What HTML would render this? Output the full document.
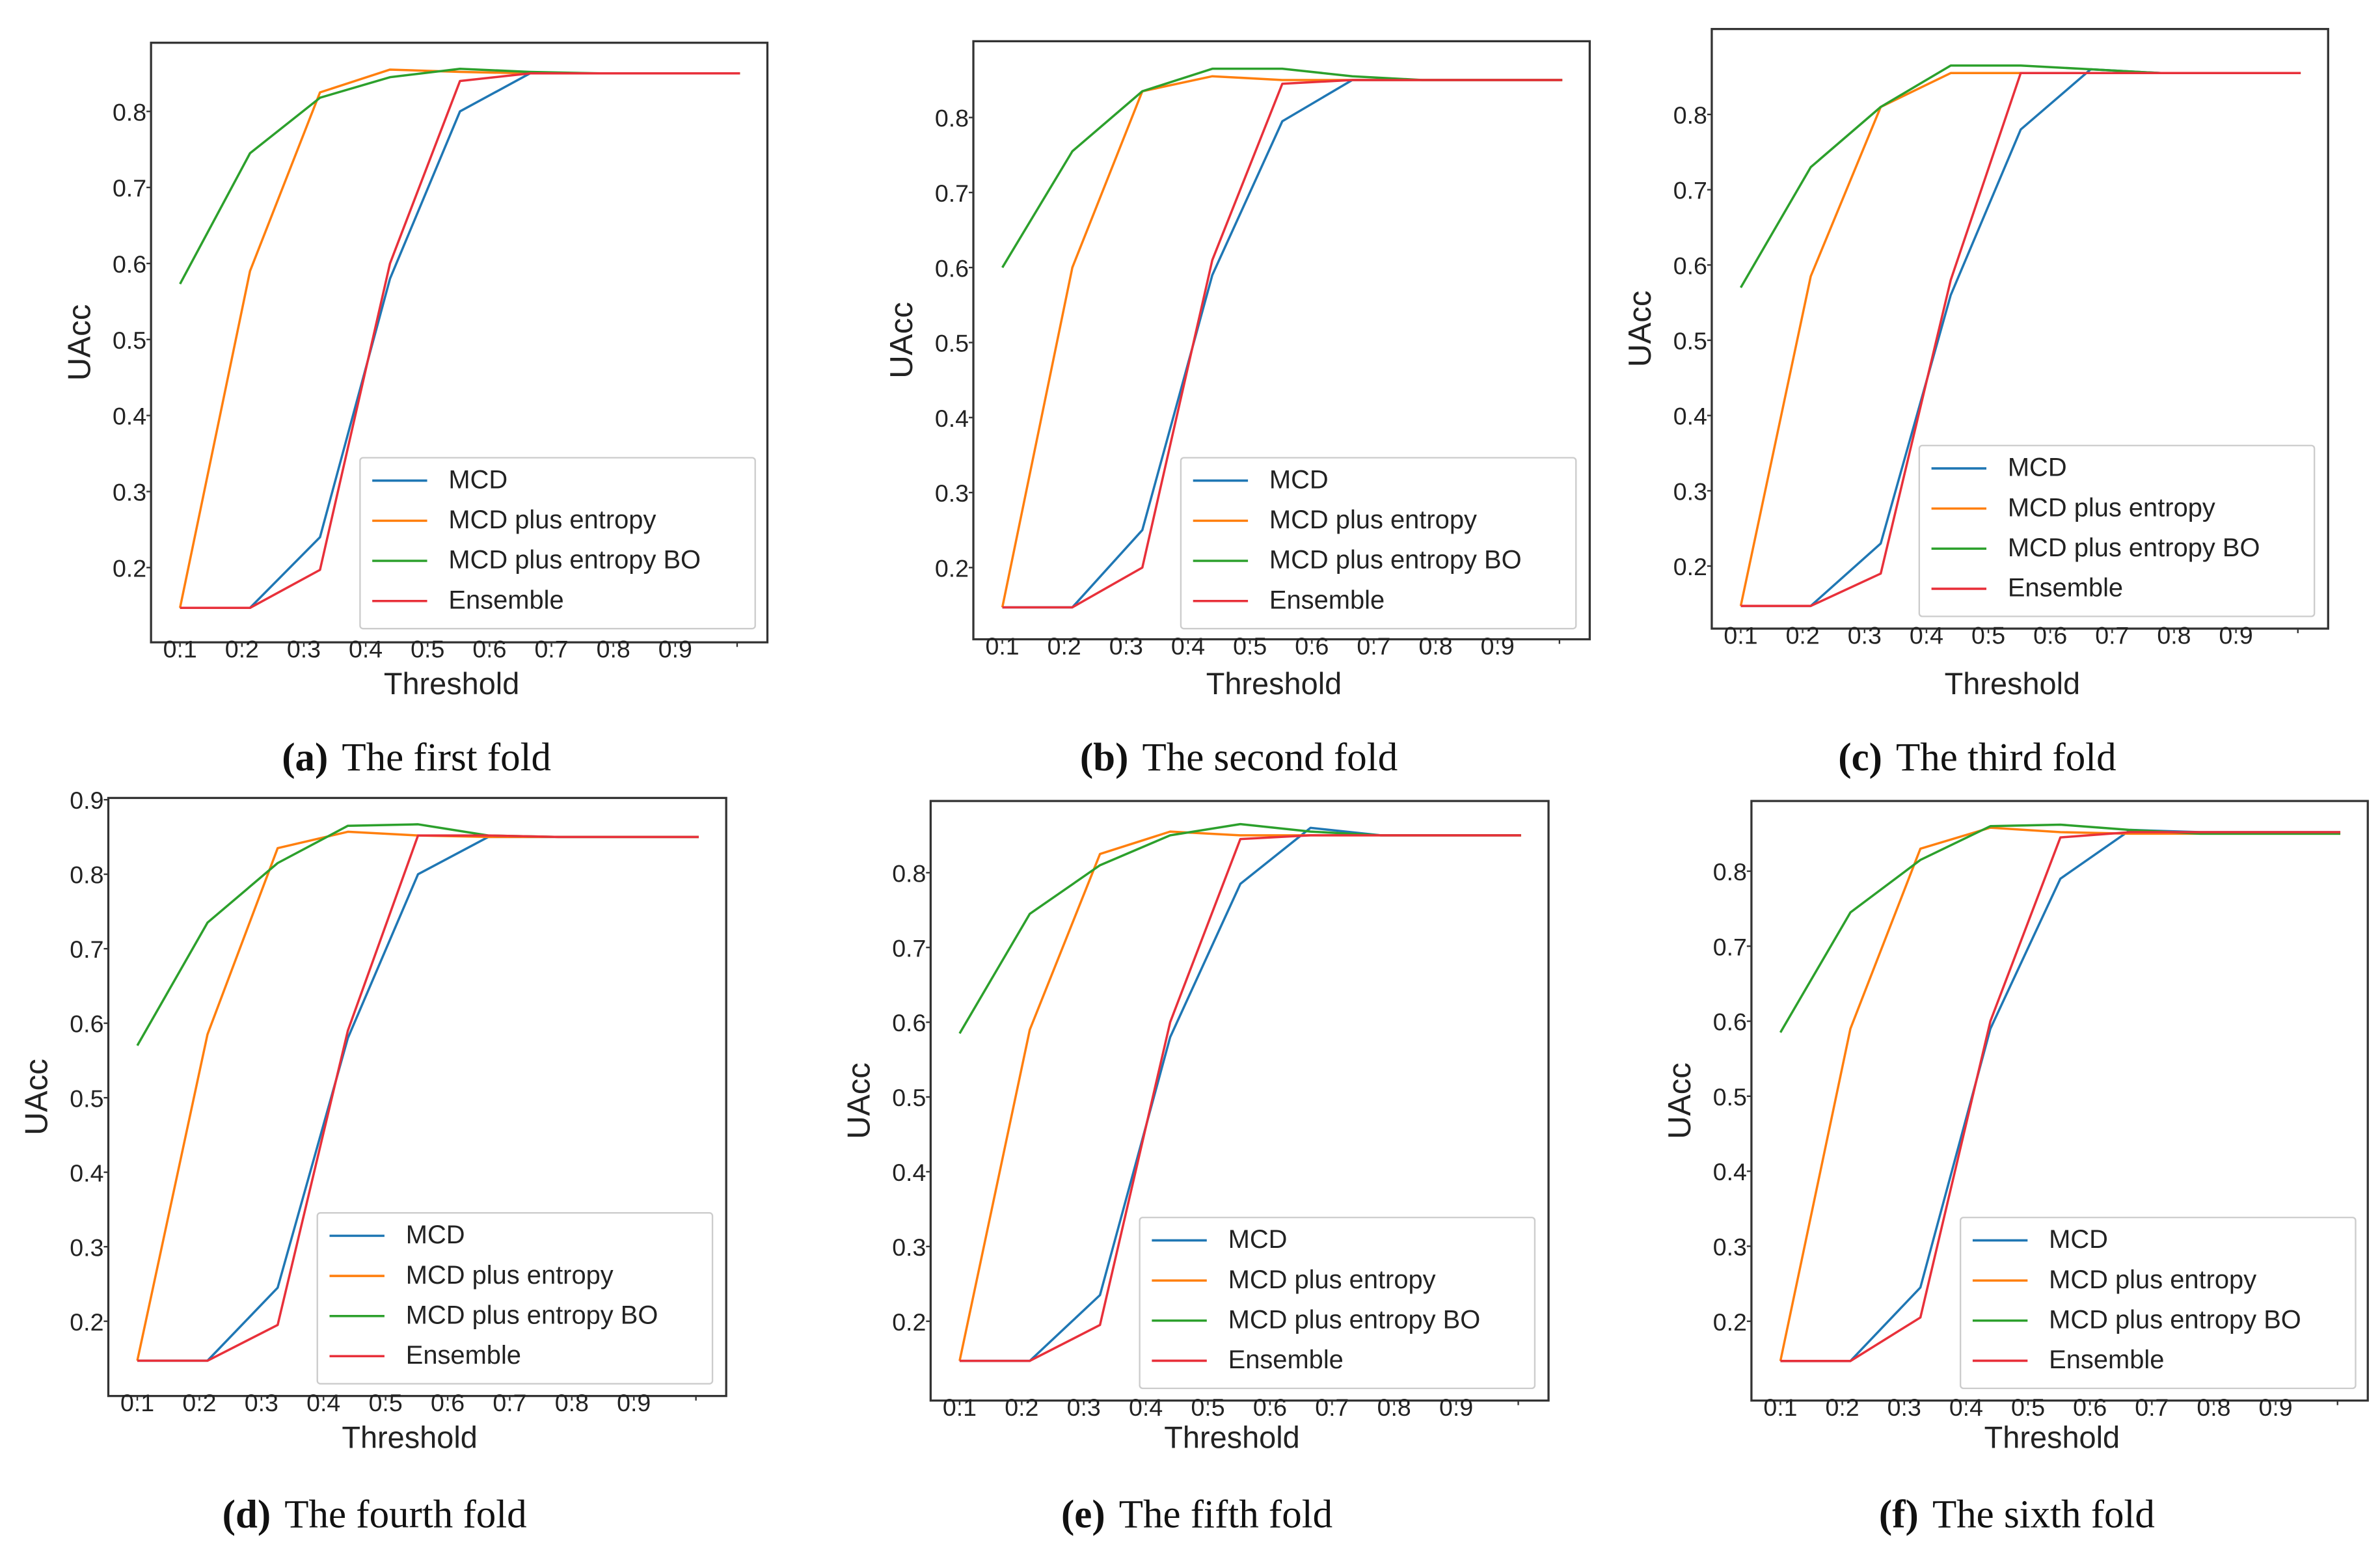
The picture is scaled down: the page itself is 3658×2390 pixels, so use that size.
<!DOCTYPE html>
<html><head><meta charset="utf-8"><style>
html,body{margin:0;padding:0;background:#fff}
svg{display:block}
text{font-family:"Liberation Sans",sans-serif;fill:#222}
.cap{font-family:"Liberation Serif",serif;fill:#111}
</style></head><body>
<svg id="fig" width="3658" height="2390" viewBox="0 0 1560 1019.2" xmlns="http://www.w3.org/2000/svg"></svg>
<script>
const thresholdLabels = ["0.1","0.2","0.3","0.4","0.5","0.6","0.7","0.8","0.9"];
const yTickValues = [0.2,0.3,0.4,0.5,0.6,0.7,0.8,0.9];
const seriesNames = ["MCD","MCD plus entropy","MCD plus entropy BO","Ensemble"];
const foldCaptions = [["(a)","The first fold"],["(b)","The second fold"],["(c)","The third fold"],["(d)","The fourth fold"],["(e)","The fifth fold"],["(f)","The sixth fold"]];
const mcdValues = [
 [0.147,0.147,0.24,0.58,0.80,0.85,0.85,0.85,0.85],
 [0.147,0.147,0.25,0.59,0.795,0.85,0.85,0.85,0.85],
 [0.147,0.147,0.23,0.56,0.78,0.86,0.855,0.855,0.855],
 [0.147,0.147,0.245,0.58,0.80,0.85,0.85,0.85,0.85],
 [0.147,0.147,0.235,0.58,0.785,0.86,0.85,0.85,0.85],
 [0.147,0.147,0.245,0.59,0.79,0.855,0.852,0.852,0.852]];
const entropyValues = [
 [0.147,0.59,0.825,0.855,0.852,0.85,0.85,0.85,0.85],
 [0.147,0.60,0.835,0.855,0.85,0.85,0.85,0.85,0.85],
 [0.147,0.585,0.81,0.855,0.855,0.855,0.855,0.855,0.855],
 [0.147,0.585,0.835,0.857,0.852,0.85,0.85,0.85,0.85],
 [0.147,0.59,0.825,0.855,0.85,0.85,0.85,0.85,0.85],
 [0.147,0.59,0.83,0.858,0.852,0.85,0.85,0.85,0.85]];
const entropyBoValues = [
 [0.573,0.745,0.818,0.845,0.856,0.852,0.85,0.85,0.85],
 [0.60,0.755,0.835,0.865,0.865,0.855,0.85,0.85,0.85],
 [0.57,0.73,0.81,0.865,0.865,0.86,0.855,0.855,0.855],
 [0.57,0.735,0.815,0.865,0.867,0.852,0.85,0.85,0.85],
 [0.585,0.745,0.81,0.85,0.865,0.855,0.85,0.85,0.85],
 [0.585,0.745,0.815,0.86,0.862,0.855,0.85,0.85,0.85]];
const ensembleValues = [
 [0.147,0.147,0.197,0.60,0.84,0.85,0.85,0.85,0.85],
 [0.147,0.147,0.20,0.61,0.845,0.85,0.85,0.85,0.85],
 [0.147,0.147,0.19,0.58,0.855,0.855,0.855,0.855,0.855],
 [0.147,0.147,0.195,0.59,0.852,0.852,0.85,0.85,0.85],
 [0.147,0.147,0.195,0.60,0.845,0.85,0.85,0.85,0.85],
 [0.147,0.147,0.205,0.60,0.845,0.852,0.852,0.852,0.852]];

const colors = ["#1f77b4","#ff7f0e","#2ca02c","#e8303a"];
const panels = [
 {l:99,r:503,t:28,b:421,y8:73,y2:372,lx:236,ly:300,top:false,tx:448,cy:505},
 {l:638,r:1042,t:27,b:419,y8:77,y2:372,lx:774,ly:300,top:false,tx:448,cy:505},
 {l:1122,r:1526,t:19,b:412,y8:75,y2:371,lx:1258,ly:292,top:false,tx:448,cy:505},
 {l:71,r:476,t:523,b:915,y8:573,y2:866,lx:208,ly:795,top:true,tx:942,cy:1001},
 {l:610,r:1015,t:525,b:918,y8:572,y2:866,lx:747,ly:798,top:false,tx:942,cy:1001},
 {l:1148,r:1552,t:525,b:918,y8:571,y2:866,lx:1285,ly:798,top:false,tx:942,cy:1001}];
const NS="http://www.w3.org/2000/svg";
const svg=document.getElementById('fig');
function mk(tag,attrs,parent,txt){const e=document.createElementNS(NS,tag);for(const k in attrs)e.setAttribute(k,attrs[k]);if(txt!==undefined)e.textContent=txt;parent.appendChild(e);return e;}
const allSeries=[mcdValues,entropyValues,entropyBoValues,ensembleValues];
const slugs=["mcd","mcd-plus-entropy","mcd-plus-entropy-bo","ensemble"];
panels.forEach((p,pi)=>{
  const g=mk('g',{},svg);
  
  
  const x0=p.l+19,x1=p.r-18;
  const xData=i=>x0+i*(x1-x0)/8;
  const xTick=j=>x0+j*(x1-x0)/9*0.995;
  const yS=v=>p.y8+(0.8-v)*(p.y2-p.y8)/0.6;
  const box=mk('rect',{x:p.l,y:p.t,width:p.r-p.l,height:p.b-p.t,fill:'#fff',stroke:'#333','stroke-width':1.4},g);
  
  
  yTickValues.forEach(v=>{const y=yS(v);if(v>0.85&&!p.top)return;if(y>p.b)return;
    mk('line',{x1:p.l-3,x2:p.l,y1:y,y2:y,stroke:'#333','stroke-width':1},g);
    const t=mk('text',{x:p.l-3,y:y+6,'text-anchor':'end','font-size':16},g,v.toFixed(1));
    
    });
  for(let j=0;j<10;j++){const x=xTick(j);
    mk('line',{x1:x,x2:x,y1:p.b,y2:p.b+3,stroke:'#333','stroke-width':1},g);
    if(j<9){const t=mk('text',{x:x,y:p.b+10,'text-anchor':'middle','font-size':16},g,thresholdLabels[j]);
      
      }}
  allSeries.forEach((s,si)=>{
    const pts=s[pi].map((v,i)=>xData(i).toFixed(2)+','+yS(v).toFixed(2)).join(' ');
    const pl=mk('polyline',{points:pts,fill:'none',stroke:colors[si],'stroke-width':1.5,'stroke-linejoin':'round'},g);
    
    });
  const lg=mk('g',{},g);
  
  
  mk('rect',{x:p.lx,y:p.ly,width:259,height:112,fill:'#fff',stroke:'#ccc','stroke-width':1,rx:2},lg);
  seriesNames.forEach((n,si)=>{const yy=p.ly+14+si*26.3;
    const e=mk('g',{},lg);
    
    
    mk('line',{x1:p.lx+8,x2:p.lx+44,y1:yy+1,y2:yy+1,stroke:colors[si],'stroke-width':1.5},e);
    mk('text',{x:p.lx+58,y:yy+6,'font-size':17},e,n);});
  const xt=mk('text',{x:(p.l+p.r)/2-5,y:p.tx+7,'text-anchor':'middle','font-size':20},g,'Threshold');
  
  
  const yc=(p.t+p.b)/2;
  const yt=mk('text',{x:p.l-40,y:yc,'text-anchor':'middle','font-size':21,transform:'rotate(-90 '+(p.l-40)+' '+yc+')'},g,'UAcc');
  
  
  const cap=mk('text',{x:(p.l+p.r)/2-28,y:p.cy,'text-anchor':'middle','font-size':26,class:'cap'},g);
  
  
  mk('tspan',{'font-weight':'bold'},cap,foldCaptions[pi][0]);
  mk('tspan',{dx:9},cap,foldCaptions[pi][1]);
});
</script>
</body></html>
